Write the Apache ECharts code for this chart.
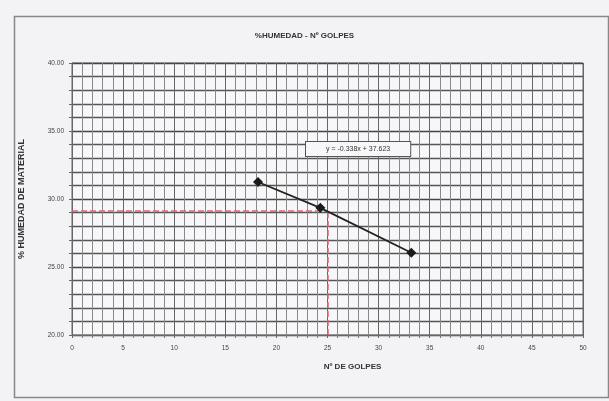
<!DOCTYPE html>
<html><head><meta charset="utf-8">
<script src="https://cdn.jsdelivr.net/npm/echarts@6/dist/echarts.min.js"></script>
<style>html,body{margin:0;padding:0;background:#f3f3f5;}#c{width:609px;height:401px;}</style>
</head><body><div id="c"></div>
<script>
var golpes = [18.2, 24.3, 33.2];
var humedad = [31.25, 29.35, 26.05];
var refGolpes = 25;
var refHumedad = 29.1;
var equation = 'y = -0.338x + 37.623';
var titleText = '%HUMEDAD - Nº GOLPES';
var xName = 'Nº DE GOLPES';
var yName = '% HUMEDAD DE MATERIAL';

var chart = echarts.init(document.getElementById('c'));
var pts = golpes.map(function (g, i) { return [g, humedad[i]]; });
chart.setOption({
  backgroundColor: '#f3f3f5',
  animation: false,
  textStyle: { fontFamily: 'Liberation Sans' },
  title: {
    text: titleText, left: 'center', top: 27,
    textStyle: { fontSize: 8, fontWeight: 'bold', color: '#333' }
  },
  grid: { left: 72, right: 26, top: 63, bottom: 66, show: true, backgroundColor: '#f7f7f9', borderColor: '#666', borderWidth: 1 },
  xAxis: {
    type: 'value', min: 0, max: 50, interval: 5,
    name: xName, nameLocation: 'middle', nameGap: 28,
    nameTextStyle: { fontSize: 8, fontWeight: 'bold', color: '#333', padding: [0, 0, 0, 50] },
    axisLine: { lineStyle: { color: '#666' } },
    axisTick: { show: true, length: 3, lineStyle: { color: '#666' } },
    minorTick: { show: true, splitNumber: 5, length: 3, lineStyle: { color: '#777' } },
    axisLabel: { fontSize: 6.5, color: '#444', margin: 10 },
    splitLine: { show: true, lineStyle: { color: '#666', width: 1 } },
    minorSplitLine: { show: true, lineStyle: { color: '#8a8a8a', width: 1 } }
  },
  yAxis: {
    type: 'value', min: 20, max: 40, interval: 5,
    name: yName, nameLocation: 'middle', nameGap: 46, nameRotate: 90,
    nameTextStyle: { fontSize: 9, fontWeight: 'bold', color: '#333' },
    axisLine: { lineStyle: { color: '#666' } },
    axisTick: { show: true, length: 3, lineStyle: { color: '#666' } },
    minorTick: { show: true, splitNumber: 5, length: 3, lineStyle: { color: '#666' } },
    axisLabel: { fontSize: 6.5, color: '#444', margin: 8, formatter: function (v) { return v.toFixed(2); } },
    splitLine: { show: true, lineStyle: { color: '#444', width: 1.3 } },
    minorSplitLine: { show: true, lineStyle: { color: '#555', width: 1.3 } }
  },
  series: [{
    type: 'line',
    data: pts,
    symbol: 'diamond', symbolSize: 10,
    lineStyle: { color: '#222', width: 1.8 },
    itemStyle: { color: '#1a1a1a' },
    markLine: {
      silent: true, symbol: 'none',
      lineStyle: { color: '#e8607a', type: 'dashed', width: 1.5 },
      label: { show: false },
      data: [
        [{ coord: [0, refHumedad] }, { coord: [refGolpes, refHumedad] }],
        [{ coord: [refGolpes, 20] }, { coord: [refGolpes, refHumedad] }]
      ]
    },
    z: 5
  }],
  graphic: [
    { type: 'rect', left: 12, top: 14, shape: { width: 594, height: 381 }, style: { fill: 'none', stroke: '#888', lineWidth: 1.5 }, z: -1 },
    { type: 'text', left: 305, top: 141, z: 100,
      style: { text: equation, fontSize: 7, fill: '#333', fontFamily: 'Liberation Sans',
        backgroundColor: '#f7f7f9', borderColor: '#555', borderWidth: 1, padding: [4, 20, 3, 20] } }
  ]
});
</script></body></html>
